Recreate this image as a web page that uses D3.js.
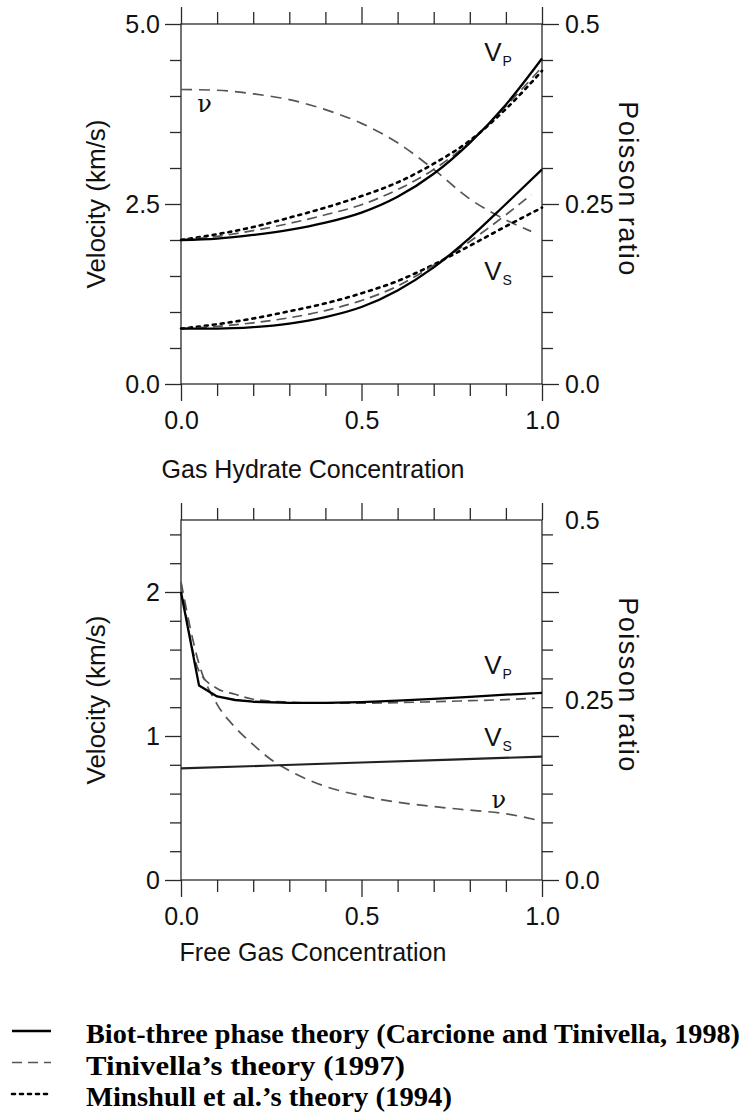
<!DOCTYPE html>
<html><head><meta charset="utf-8">
<script src="https://cdn.jsdelivr.net/npm/d3@7"></script>
<style>body{margin:0;background:#fff}svg{display:block}</style>
</head><body>
<svg id="chart" width="744" height="1112"></svg>
<script>
// ---------------- DATA ----------------
// Top panel: gas hydrate concentration
const hydrateConc        = [0, 0.1, 0.2, 0.3, 0.4, 0.5, 0.6, 0.7, 0.8, 0.9, 1.0];
const vpBiotHydrate      = [2.00, 2.02, 2.07, 2.14, 2.24, 2.38, 2.60, 2.92, 3.35, 3.88, 4.52];
const vpTinivellaHydrate = [2.00, 2.05, 2.13, 2.23, 2.35, 2.49, 2.70, 2.98, 3.36, 3.86, 4.40];
const vpMinshullHydrate  = [2.00, 2.08, 2.18, 2.31, 2.45, 2.61, 2.80, 3.06, 3.38, 3.82, 4.35];
const vsBiotHydrate      = [0.77, 0.77, 0.79, 0.84, 0.93, 1.07, 1.30, 1.62, 2.03, 2.50, 2.98];
const vsTinivellaConc    = [0, 0.1, 0.2, 0.3, 0.4, 0.5, 0.6, 0.7, 0.8, 0.9, 0.97];
const vsTinivellaHydrate = [0.77, 0.80, 0.85, 0.92, 1.02, 1.16, 1.36, 1.65, 1.98, 2.35, 2.63];
const vsMinshullHydrate  = [0.77, 0.83, 0.91, 1.01, 1.12, 1.26, 1.43, 1.66, 1.92, 2.19, 2.45];
const poissonHydrateConc = [0, 0.1, 0.2, 0.3, 0.4, 0.5, 0.6, 0.7, 0.8, 0.9, 0.97];
const poissonHydrate     = [0.409, 0.408, 0.403, 0.395, 0.381, 0.362, 0.335, 0.298, 0.257, 0.228, 0.212];

// Bottom panel: free gas concentration
const gasConcBiotVp      = [0, 0.05, 0.1, 0.15, 0.2, 0.3, 0.4, 0.5, 0.6, 0.7, 0.8, 0.9, 1.0];
const vpBiotGas          = [2.00, 1.35, 1.275, 1.25, 1.238, 1.23, 1.23, 1.235, 1.245, 1.258, 1.272, 1.287, 1.30];
const gasConcTinivellaVp = [0, 0.05, 0.1, 0.15, 0.2, 0.3, 0.4, 0.5, 0.6, 0.7, 0.8, 0.9, 0.98];
const vpTinivellaGas     = [2.06, 1.45, 1.33, 1.29, 1.255, 1.235, 1.228, 1.228, 1.232, 1.238, 1.245, 1.253, 1.262];
const gasConcVs          = [0, 0.25, 0.5, 0.75, 1.0];
const vsBiotGas          = [0.775, 0.795, 0.816, 0.836, 0.857];
const gasConcPoisson     = [0, 0.05, 0.1, 0.15, 0.2, 0.25, 0.3, 0.4, 0.5, 0.6, 0.7, 0.8, 0.9, 0.98];
const poissonGas         = [0.414, 0.300, 0.244, 0.212, 0.188, 0.167, 0.152, 0.130, 0.117, 0.108, 0.102, 0.097, 0.092, 0.084];

// Ticks and labels
const xMajorTicks        = [0, 0.5, 1.0];
const xTickLabels        = ["0.0", "0.5", "1.0"];
const topVelMajorTicks   = [0, 2.5, 5.0];
const topVelTickLabels   = ["0.0", "2.5", "5.0"];
const botVelMajorTicks   = [0, 1, 2];
const botVelTickLabels   = ["0", "1", "2"];
const poissonTicks       = [0, 0.25, 0.5];
const poissonTickLabels  = ["0.0", "0.25", "0.5"];

const legendLabels = [
  "Biot-three phase theory (Carcione and Tinivella, 1998)",
  "Tinivella\u2019s theory (1997)",
  "Minshull et al.\u2019s theory (1994)"
];

// ---------------- DRAWING ----------------
const svg = d3.select("#chart");
const SANS = "'Liberation Sans', Arial, Helvetica, sans-serif";
const AX = "#2a2a2a";
const X0 = 181, X1 = 542;

const STYLE = {
  biot:      {stroke: "#000", width: 2.3, dash: null},
  tinivella: {stroke: "#555", width: 1.7, dash: "10,6"},
  minshull:  {stroke: "#000", width: 2.6, dash: "3,5"},
  poisson:   {stroke: "#555", width: 1.7, dash: "11,7"}
};

function panel(o) {
  const x = d3.scaleLinear().domain([0, 1]).range([X0, X1]);
  const y = d3.scaleLinear().domain([0, o.vMax]).range([o.bottom, o.top]);
  const yP = d3.scaleLinear().domain([0, 0.5]).range([o.bottom, o.top]);
  const g = svg.append("g");

  const xMinor = d3.range(0, 1.0001, 0.1).map(d => +d.toFixed(2)).filter(d => !xMajorTicks.includes(d));
  const vMinor = d3.range(0, o.vMax + 1e-6, o.vStep).map(d => +d.toFixed(2)).filter(d => !o.vMajor.includes(d));

  function addAxis(axis, tr) {
    const a = g.append("g").attr("transform", tr).call(axis);
    a.select(".domain").remove();
    a.selectAll("line").attr("stroke", AX).attr("stroke-width", 1.3);
    a.selectAll("text").attr("font-family", SANS).attr("font-size", 25).attr("fill", "#111");
    return a;
  }
  // bottom
  addAxis(d3.axisBottom(x).tickValues(xMinor).tickSize(12).tickFormat(""), `translate(0,${o.bottom})`);
  addAxis(d3.axisBottom(x).tickValues(xMajorTicks).tickSize(17).tickPadding(10).tickFormat((d, i) => xTickLabels[i]), `translate(0,${o.bottom})`);
  // top
  addAxis(d3.axisTop(x).tickValues(xMinor).tickSize(12).tickFormat(""), `translate(0,${o.top})`);
  addAxis(d3.axisTop(x).tickValues(xMajorTicks).tickSize(17).tickFormat(""), `translate(0,${o.top})`);
  // left
  addAxis(d3.axisLeft(y).tickValues(vMinor).tickSize(11).tickFormat(""), `translate(${X0},0)`);
  addAxis(d3.axisLeft(y).tickValues(o.vMajor).tickSize(16).tickPadding(5).tickFormat((d, i) => o.vLabels[i]), `translate(${X0},0)`);
  // right (velocity tick marks mirrored)
  addAxis(d3.axisRight(y).tickValues(vMinor).tickSize(11).tickFormat(""), `translate(${X1},0)`);
  addAxis(d3.axisRight(y).tickValues(o.vMajor).tickSize(17).tickFormat(""), `translate(${X1},0)`);
  // right labels (Poisson ratio)
  addAxis(d3.axisRight(yP).tickValues(poissonTicks).tickSize(0).tickPadding(23).tickFormat((d, i) => poissonTickLabels[i]), `translate(${X1},0)`);

  // frame
  g.append("rect").attr("x", X0).attr("y", o.top).attr("width", X1 - X0).attr("height", o.bottom - o.top)
    .attr("fill", "none").attr("stroke", AX).attr("stroke-width", 1.3);

  // titles
  g.append("text").attr("transform", `translate(105,${(o.top + o.bottom) / 2}) rotate(-90)`)
    .attr("text-anchor", "middle").attr("font-family", SANS).attr("font-size", 26).attr("fill", "#111")
    .text("Velocity (km/s)");
  g.append("text").attr("transform", `translate(619,${(o.top + o.bottom) / 2 - 15}) rotate(90)`)
    .attr("text-anchor", "middle").attr("font-family", SANS).attr("font-size", 27).attr("letter-spacing", 1.5).attr("fill", "#111")
    .text("Poisson ratio");
  g.append("text").attr("x", 313).attr("y", o.bottom + o.titleOffset)
    .attr("text-anchor", "middle").attr("font-family", SANS).attr("font-size", 25).attr("fill", "#111")
    .text(o.xTitle);

  // curves
  const clip = g.append("g");
  function curve(xs, ys, scale, st, crv) {
    const gen = d3.line().x((d, i) => x(xs[i])).y(d => scale(d)).curve(crv || d3.curveMonotoneX);
    clip.append("path").attr("d", gen(ys)).attr("fill", "none")
      .attr("stroke", st.stroke).attr("stroke-width", st.width)
      .attr("stroke-dasharray", st.dash).attr("stroke-linecap", st === STYLE.minshull ? "round" : "butt")
      .attr("stroke-linejoin", "round");
  }
  o.draw(curve, y, yP);

  // curve labels
  function vlabel(cx, cy, sub) {
    const t = g.append("text").attr("x", x(cx)).attr("y", y(cy)).attr("font-family", SANS).attr("font-size", 26).attr("fill", "#111");
    t.append("tspan").text("V");
    t.append("tspan").attr("font-size", 14).attr("dy", 5).attr("dx", 1).text(sub);
  }
  function nulabel(cx, cy) {
    g.append("text").attr("x", x(cx)).attr("y", y(cy)).attr("font-family", "'DejaVu Serif', 'Liberation Serif', serif")
      .attr("font-size", 24).attr("fill", "#111").text("\u03BD");
  }
  o.labels(vlabel, nulabel);
}

panel({
  top: 24, bottom: 384, vMax: 5, vStep: 0.5,
  vMajor: topVelMajorTicks, vLabels: topVelTickLabels,
  xTitle: "Gas Hydrate Concentration", titleOffset: 94,
  draw(curve, y, yP) {
    curve(poissonHydrateConc, poissonHydrate, yP, STYLE.poisson);
    curve(hydrateConc, vpMinshullHydrate, y, STYLE.minshull);
    curve(hydrateConc, vpTinivellaHydrate, y, STYLE.tinivella);
    curve(hydrateConc, vpBiotHydrate, y, STYLE.biot);
    curve(hydrateConc, vsMinshullHydrate, y, STYLE.minshull);
    curve(vsTinivellaConc, vsTinivellaHydrate, y, STYLE.tinivella);
    curve(hydrateConc, vsBiotHydrate, y, STYLE.biot);
  },
  labels(vlabel, nulabel) {
    vlabel(0.84, 4.48, "P");
    vlabel(0.84, 1.45, "S");
    nulabel(0.045, 3.78);
  }
});

panel({
  top: 520, bottom: 880, vMax: 2.5, vStep: 0.2,
  vMajor: botVelMajorTicks, vLabels: botVelTickLabels,
  xTitle: "Free Gas Concentration", titleOffset: 81,
  draw(curve, y, yP) {
    curve(gasConcPoisson, poissonGas, yP, STYLE.poisson);
    curve(gasConcTinivellaVp, vpTinivellaGas, y, STYLE.tinivella);
    curve(gasConcBiotVp, vpBiotGas, y, STYLE.biot, d3.curveLinear);
    curve(gasConcVs, vsBiotGas, y, {stroke: "#222", width: 2.2, dash: null}, d3.curveLinear);
  },
  labels(vlabel, nulabel) {
    vlabel(0.84, 1.43, "P");
    vlabel(0.84, 0.93, "S");
    nulabel(0.86, 0.50);
  }
});

// ---------------- LEGEND ----------------
const legendStyles = [STYLE.biot, STYLE.tinivella, STYLE.minshull];
const legendWidths = [654, 319, 366];
const lg = svg.append("g");
legendLabels.forEach((lab, i) => {
  const yy = 1034 + i * 31.5;
  const st = legendStyles[i];
  lg.append("line").attr("x1", 12).attr("x2", 51).attr("y1", yy - 3).attr("y2", yy - 3)
    .attr("stroke", st.stroke).attr("stroke-width", st.width).attr("stroke-dasharray", st.dash)
    .attr("stroke-linecap", i === 2 ? "round" : "butt");
  lg.append("text").attr("x", 86).attr("y", yy + 9)
    .attr("font-family", "'Liberation Serif', 'Times New Roman', serif").attr("font-weight", "bold")
    .attr("font-size", 28).attr("fill", "#000")
    .attr("textLength", legendWidths[i]).attr("lengthAdjust", "spacingAndGlyphs")
    .text(lab);
});
</script>
</body></html>
